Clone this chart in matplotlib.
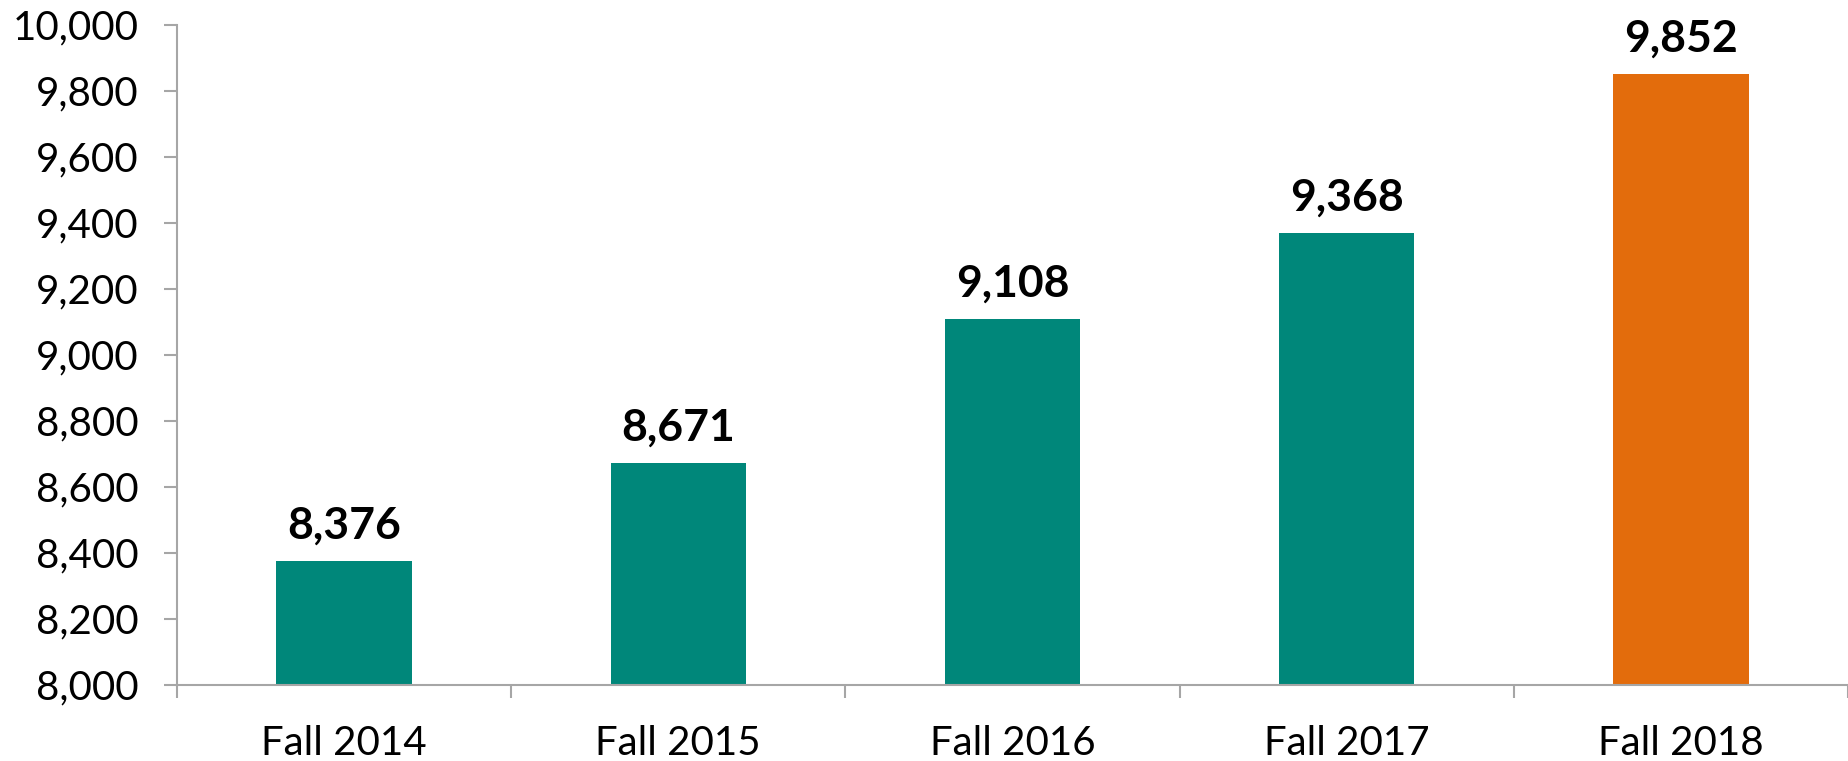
import matplotlib
matplotlib.use("Agg")
import matplotlib.pyplot as plt
from matplotlib.ticker import FuncFormatter, FixedLocator
import numpy as np

# enrollment by fall term
terms = ['Fall 2014', 'Fall 2015', 'Fall 2016', 'Fall 2017', 'Fall 2018']
counts = [8376, 8671, 9108, 9368, 9852]
bar_colors = ['#00877A', '#00877A', '#00877A', '#00877A', '#E36C0C']

plt.rcParams['font.family'] = ['Lato', 'DejaVu Sans']

fig = plt.figure(figsize=(18.48, 7.61), dpi=100)
ax = fig.add_axes([0.0957, 0.1001, 0.9043, 0.8674])

x = np.arange(len(terms))
bars = ax.bar(x, counts, 0.405, color=bar_colors, zorder=2)

ax.set_ylim(8000, 10000)
ax.set_xlim(-0.5, len(terms) - 0.5)
ax.set_yticks(np.arange(8000, 10001, 200))
ax.yaxis.set_major_formatter(FuncFormatter(lambda v, p: f"{int(v):,}"))

ax.set_xticks(x)
ax.set_xticklabels(terms)
ax.xaxis.set_minor_locator(FixedLocator(np.arange(-0.5, len(terms), 1.0)))

grey = '#A6A6A6'
for side in ['top', 'right']:
    ax.spines[side].set_visible(False)
for side in ['left', 'bottom']:
    ax.spines[side].set_color(grey)
    ax.spines[side].set_linewidth(1.5)

ax.tick_params(axis='y', direction='out', length=9.5, width=1.5, color=grey,
               labelsize=29, pad=18)
ax.tick_params(axis='x', which='major', length=0, labelsize=29, pad=29)
ax.tick_params(axis='x', which='minor', direction='out', length=9.5, width=1.5, color=grey)

for b, v in zip(bars, counts):
    ax.annotate(f"{v:,}", (b.get_x() + b.get_width() / 2, v),
                xytext=(0, 11), textcoords='offset points',
                ha='center', va='bottom', fontsize=32, fontweight='bold')

fig.savefig('out.png', dpi=100)
